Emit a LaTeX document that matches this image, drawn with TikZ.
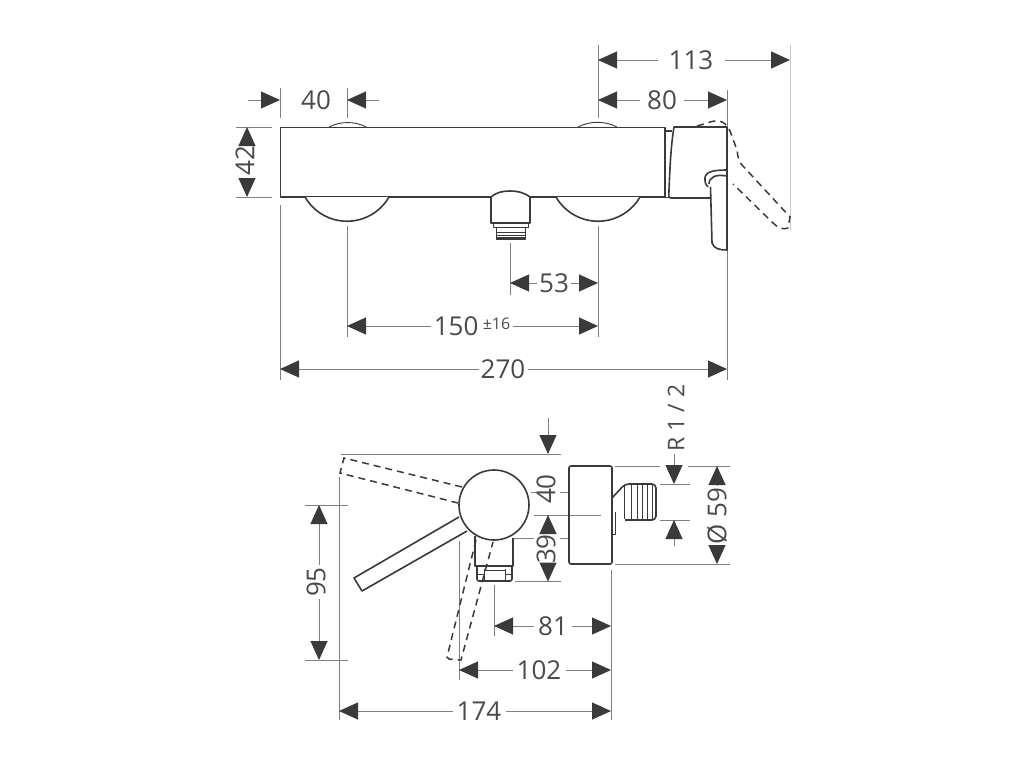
\documentclass[tikz,border=0pt]{standalone}
\usepackage{fontspec}
\setmainfont{Open Sans}
\usetikzlibrary{arrows.meta}
\definecolor{objc}{HTML}{3A3A3A}
\definecolor{dimc}{HTML}{808080}
\definecolor{txtc}{HTML}{4A4A4A}
\tikzset{
  x=1pt,y=-1pt,
  obj/.style={draw=objc,line width=1.6pt,line join=round},
  thinobj/.style={draw=objc,line width=0.9pt,line join=round},
  dash obj/.style={draw=objc,line width=1.5pt,dash pattern=on 7pt off 5pt},
  ext/.style={draw=dimc,line width=1pt},
  faint/.style={draw=black!22,line width=1pt},
  dimarrow/.style={draw=dimc,line width=1pt,-{Triangle[length=19pt,width=17pt,color=objc]}},
  dimtext/.style={text=txtc,font=\fontsize{26}{26}\selectfont,inner sep=2pt,text height=18.5pt,text depth=0pt},
  dimvert/.style={dimtext,rotate=90,inner sep=2pt},
}
\begin{document}
\begin{tikzpicture}
\useasboundingbox (0,0) rectangle (1024,768);
% ---------- top view: extension lines
\draw[ext] (280,88) -- (280,118) (280,205) -- (280,380);
\draw[ext] (347,88) -- (347,118) (347,226) -- (347,337);
\draw[ext] (598,45) -- (598,118) (598,226) -- (598,337);
\draw[ext] (727,90) -- (727,127) (727,250) -- (727,380);
\draw[ext] (510,243) -- (510,295);
\draw[ext] (236,127) -- (272,127) (236,197) -- (272,197);
\draw[faint] (790,45) -- (790,230);
% ---------- top view: object
\draw[obj] (280.5,127.5) rectangle (665,197);
\draw[thinobj] (329,127) arc[start angle=-117,end angle=-63,radius=41];
\draw[thinobj] (578,127) arc[start angle=-117,end angle=-63,radius=43];
\draw[obj,fill=white] (305,197) arc[start angle=180-30,end angle=30,radius=48.5];
\draw[obj,fill=white] (556,197) arc[start angle=180-30,end angle=30,radius=48.5];
\draw[obj,fill=white] (491,197) .. controls (497,192) and (503,191) .. (510,191) .. controls (517,191) and (523,192) .. (530,197) -- (530,223) -- (491,223) -- cycle;
\draw[thinobj,fill=white] (493,223) rectangle (528,227);
\draw[thinobj,fill=white] (496,227) rectangle (525,239);
\draw[thinobj] (496,232) -- (525,232);
\draw[thinobj] (496,235) -- (525,235);
\fill[objc] (496,236.5) rectangle (525,239);
% escutcheon and spout
\draw[obj] (665,131) -- (672,131);
\draw[thinobj] (665,197) -- (669,197);
\draw[obj] (711,198) -- (671,198) .. controls (668,198) and (669,195) .. (669,190) .. controls (670,165) and (671,145) .. (674,127) -- (727,127);
\draw[obj] (727,127) -- (727,250) .. controls (720,250) and (714,249) .. (712,243) -- (710.5,187);
\draw[obj] (727,170) .. controls (712,170) and (704,172) .. (705,180) .. controls (705,184) and (707,186) .. (708,187);
\draw[obj] (727,176) .. controls (716,174) and (709,177) .. (709,184);
\draw[dash obj] (697,126) .. controls (705,124) and (713,120) .. (719,121) .. controls (724,122) and (727,125) .. (730,131) -- (737,150) .. controls (738,158) and (739,162) .. (742,165) -- (790,217) -- (788,228) .. controls (783,230) and (778,228) .. (773,223) -- (733,184);
% ---------- top view: dimensions
\node[dimtext,inner sep=11pt] (d113) at (691,60) {113};
\coordinate (a113l) at (598,60); \coordinate (a113r) at (790,60);
\draw[dimarrow] (d113) -- (a113l);
\draw[dimarrow] (d113) -- (a113r);
\node[dimtext,inner sep=7pt] (d80) at (662,100) {80};
\coordinate (a80l) at (598,100); \coordinate (a80r) at (727,100);
\draw[dimarrow] (d80) -- (a80l);
\draw[dimarrow] (d80) -- (a80r);
\node[dimtext] (d40) at (316,100) {40};
\coordinate (t40a) at (248,100); \coordinate (h40a) at (280,100);
\coordinate (t40b) at (379,100); \coordinate (h40b) at (347,100);
\draw[dimarrow] (t40a) -- (h40a);
\draw[dimarrow] (t40b) -- (h40b);
\node[dimvert] (d42) at (245,161) {42};
\coordinate (a42t) at (247,127); \coordinate (a42b) at (247,197);
\draw[dimarrow] (d42.east -| a42t) -- (a42t);
\draw[dimarrow] (d42.west -| a42b) -- (a42b);
\node[dimtext] (d53) at (554,283) {53};
\coordinate (a53l) at (510,283); \coordinate (a53r) at (598,283);
\draw[dimarrow] (d53) -- (a53l);
\draw[dimarrow] (d53) -- (a53r);
\node[dimtext,inner sep=3pt] (d150) at (472,326) {150\,\raisebox{6pt}{\fontsize{16}{16}\selectfont ±16}};
\coordinate (a150l) at (347,326); \coordinate (a150r) at (598,326);
\draw[dimarrow] (d150) -- (a150l);
\draw[dimarrow] (d150) -- (a150r);
\node[dimtext] (d270) at (503,369) {270};
\coordinate (a270l) at (280,369); \coordinate (a270r) at (727,369);
\draw[dimarrow] (d270) -- (a270l);
\draw[dimarrow] (d270) -- (a270r);
% ---------- lower view: extension lines
\draw[ext] (341,454) -- (561,454);
\draw[ext] (339,477) -- (339,720);
\draw[ext] (305,505) -- (348,505) (305,660) -- (348,660);
\draw[ext] (459,541) -- (459,680);
\draw[ext] (494,585) -- (494,636);
\draw[ext] (611,570) -- (611,720);
\draw[ext] (515,581.5) -- (561,581.5);
\draw[ext] (534,515) -- (601,515);
\draw[ext] (513,538) -- (534,538) (560,538) -- (569,538);
\draw[ext] (531,492) -- (537,492) (560,492) -- (569,492);
\draw[ext] (615,466) -- (660,466) (688,466) -- (730,466);
\draw[ext] (615,564) -- (730,564);
\draw[ext] (660,484) -- (690,484) (660,520) -- (690,520);
% ---------- lower view: object
\draw[obj] (494,505) circle[radius=35];
\draw[obj] (459,517) -- (354,578) -- (362,591) -- (467,531);
\draw[obj] (475,536) -- (475,566) -- (513,566) -- (513,538);
\draw[obj,rounded corners=2pt] (477,566) -- (477,581) -- (512,581) -- (512,566);
\draw[thinobj] (484,569) -- (484,581) (505,569) -- (505,581);
\draw[thinobj] (477,574) -- (484,574) (505,574) -- (512,574);
\draw[thinobj] (484,570) -- (505,570);
\draw[dash obj] (462,487) -- (344,458) -- (340,473) -- (458,503);
\draw[dash obj] (476,540) -- (447,657) -- (449,659) -- (461,660) -- (493,542);
\draw[obj,rounded corners=2pt] (569,466) rectangle (612,564);
\draw[obj,rounded corners=4pt] (612,498) -- (625,484) -- (656,484) -- (656,520) -- (625,520);
\draw[thinobj] (624.5,485) -- (624.5,519) (631,485) -- (631,519) (637,485) -- (637,519) (642,485) -- (642,519) (647,485) -- (647,519) (652,485) -- (652,519);
\draw[thinobj] (615,512) -- (615,534) -- (612,534);
% ---------- lower view: dimensions
\coordinate (t40t) at (548,418); \coordinate (h40t) at (548,454);
\draw[dimarrow] (t40t) -- (h40t);
\node[dimvert] (d40v) at (546,489) {40};
\node[dimvert] (d39v) at (546,549) {39};
\coordinate (h39t) at (548,515); \coordinate (h39b) at (548,581.5);
\draw[dimarrow] (d39v.east -| h39t) -- (h39t);
\draw[dimarrow] (d39v.west -| h39b) -- (h39b);
\node[dimvert,font=\fontsize{23}{23}\selectfont,text height=16.5pt] (dR) at (676,418) {R 1 / 2};
\coordinate (hRt) at (674,484); \coordinate (hRb) at (674,520);
\coordinate (tRb) at (674,546);
\draw[dimarrow] (dR.west -| hRt) -- (hRt);
\draw[dimarrow] (tRb) -- (hRb);
\node[dimvert] (d59) at (717,516) {Ø 59};
\coordinate (h59t) at (717,466); \coordinate (h59b) at (717,564);
\draw[dimarrow] (d59.east -| h59t) -- (h59t);
\draw[dimarrow] (d59.west -| h59b) -- (h59b);
\node[dimvert] (d95) at (316,582) {95};
\coordinate (h95t) at (319,505); \coordinate (h95b) at (319,660);
\draw[dimarrow] (d95.east -| h95t) -- (h95t);
\draw[dimarrow] (d95.west -| h95b) -- (h95b);
\node[dimtext,inner sep=4pt] (d81) at (553,626) {81};
\coordinate (a81l) at (494,626); \coordinate (a81r) at (611,626);
\draw[dimarrow] (d81) -- (a81l);
\draw[dimarrow] (d81) -- (a81r);
\node[dimtext,inner sep=4pt] (d102) at (539,670) {102};
\coordinate (a102l) at (459,670); \coordinate (a102r) at (611,670);
\draw[dimarrow] (d102) -- (a102l);
\draw[dimarrow] (d102) -- (a102r);
\node[dimtext,inner sep=4pt] (d174) at (479,711) {174};
\coordinate (a174l) at (339,711); \coordinate (a174r) at (611,711);
\draw[dimarrow] (d174) -- (a174l);
\draw[dimarrow] (d174) -- (a174r);
\end{tikzpicture}
\end{document}
